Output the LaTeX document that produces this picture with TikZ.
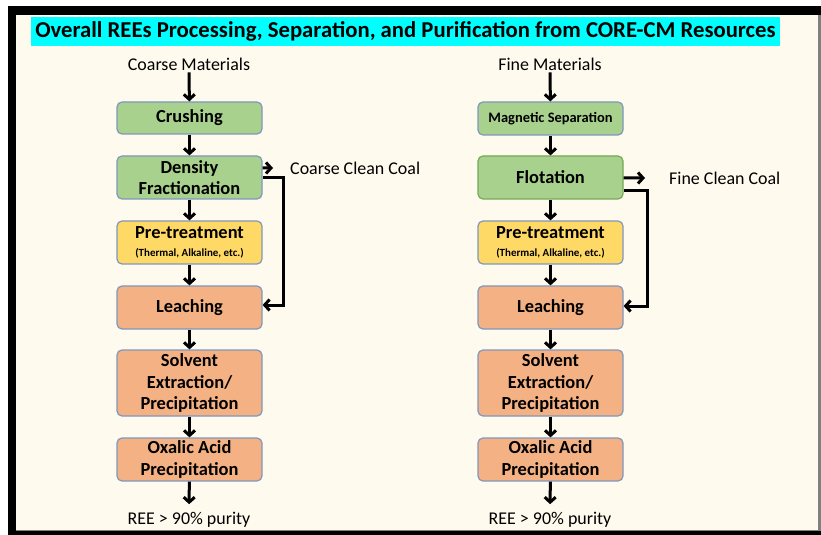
\documentclass[tikz,border=0pt]{standalone}
\usepackage{fontspec}
\setmainfont{Carlito}
\usetikzlibrary{arrows.meta}
\definecolor{cream}{HTML}{FFFAEE}
\definecolor{titlecyan}{HTML}{00FFFF}
\definecolor{boxgreen}{HTML}{A9D18E}
\definecolor{boxyellow}{HTML}{FFD966}
\definecolor{boxorange}{HTML}{F4B183}
\definecolor{boxedge}{HTML}{7F97BD}
\definecolor{greenedge}{HTML}{76A857}
\begin{document}
\begin{tikzpicture}[x=1bp,y=-1bp,
  stepbox/.style={draw=boxedge, line width=1.2bp, rounded corners=5bp, minimum width=145bp, align=center, inner sep=1bp, font=\fontsize{18.5}{21.5}\selectfont\bfseries},
  greenbox/.style={stepbox, fill=boxgreen},
  yellowbox/.style={stepbox, fill=boxyellow},
  orangebox/.style={stepbox, fill=boxorange},
  plain/.style={font=\fontsize{18}{21}\selectfont, inner sep=2bp},
  arr/.style={line width=3bp, -{Straight Barb[length=5bp,width=11bp,line width=3bp]}}]
% frame
\fill[white] (0,0) rectangle (821,535);
\fill[black] (8,6) rectangle (821,535);
\fill[cream] (16,15) rectangle (818,530);
\fill[gray] (818,15) rectangle (821,531);
\fill[gray] (16,530) rectangle (818,531);
\useasboundingbox (0,0) rectangle (821,535);
% title
\node[fill=titlecyan, minimum width=749bp, minimum height=29bp, inner sep=0pt, font=\fontsize{22.8}{25}\selectfont\bfseries] (title) at (405.5,31.5) {Overall REEs Processing, Separation, and Purification from CORE-CM Resources};

% coarse branch
\node[plain] (inL) at (189,64) {Coarse Materials};
\node[greenbox, minimum height=32bp] (crushL) at (189.5,118) {Crushing};
\node[greenbox, minimum height=43bp] (densL) at (189.5,177.5) {Density\\Fractionation};
\node[yellowbox, minimum height=43bp] (preL) at (189.5,242.5) {Pre-treatment\\[-3bp]{\fontsize{11}{12}\selectfont(Thermal, Alkaline, etc.)}};
\node[orangebox, minimum height=43bp] (leachL) at (189.5,307.5) {Leaching};
\node[orangebox, minimum height=66bp] (solvL) at (189.5,383) {Solvent\\Extraction/\\Precipitation};
\node[orangebox, minimum height=43bp] (oxL) at (189.5,459.5) {Oxalic Acid\\Precipitation};
\node[plain] (pureL) at (189,520) {REE > 90\% purity};
\node[plain, anchor=west] (coalL) at (288,168) {Coarse Clean Coal};
\draw[arr] (inL) -- (crushL);
\draw[arr] (crushL) -- (densL);
\draw[arr] (densL) -- (preL);
\draw[arr] (preL) -- (leachL);
\draw[arr] (leachL) -- (solvL);
\draw[arr] (solvL) -- (oxL);
\draw[arr, shorten >=6bp] (oxL) -- (pureL);
\draw[arr, shorten >=15bp] ([yshift=9.5bp]densL.east) -- (coalL.west);
\draw[arr] ([yshift=-0.5bp]densL.east) -- ++(21,0) |- ([yshift=2.5bp]leachL.east);

% fine branch
\node[plain] (inR) at (550,64) {Fine Materials};
\node[greenbox, minimum height=33bp, font=\fontsize{14.5}{16}\selectfont\bfseries] (magR) at (550.5,118.5) {Magnetic Separation};
\node[greenbox, draw=greenedge, minimum height=43bp] (flotR) at (550.5,177.5) {Flotation};
\node[yellowbox, minimum height=43bp] (preR) at (550.5,242.5) {Pre-treatment\\[-3bp]{\fontsize{11}{12}\selectfont(Thermal, Alkaline, etc.)}};
\node[orangebox, minimum height=43bp] (leachR) at (550.5,307.5) {Leaching};
\node[orangebox, minimum height=66bp] (solvR) at (550.5,383) {Solvent\\Extraction/\\Precipitation};
\node[orangebox, minimum height=43bp] (oxR) at (550.5,459.5) {Oxalic Acid\\Precipitation};
\node[plain] (pureR) at (550,520) {REE > 90\% purity};
\node[plain, anchor=west] (coalR) at (667,178) {Fine Clean Coal};
\draw[arr] (inR) -- (magR);
\draw[arr] (magR) -- (flotR);
\draw[arr] (flotR) -- (preR);
\draw[arr] (preR) -- (leachR);
\draw[arr] (leachR) -- (solvR);
\draw[arr] (solvR) -- (oxR);
\draw[arr, shorten >=6bp] (oxR) -- (pureR);
\draw[arr, shorten >=22bp] ([yshift=-0.5bp]flotR.east) -- (coalR.west);
\draw[arr] ([yshift=-13.5bp]flotR.east) -- ++(24,0) |- ([yshift=1.5bp]leachR.east);

\end{tikzpicture}
\end{document}
